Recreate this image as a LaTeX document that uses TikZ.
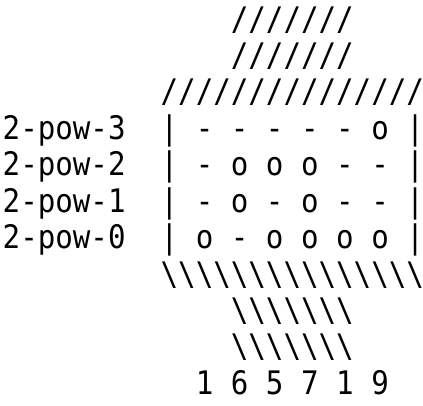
\documentclass[tikz,border=0pt]{standalone}
\usepackage{fontspec}
\newfontfamily\asciifont[FakeStretch=0.9]{DejaVu Sans Mono}
\begin{document}
\begin{tikzpicture}[x=17.55pt,y=-36.43pt,
  ch/.style={inner sep=0pt,anchor=base,font=\asciifont\fontsize{32.4}{36}\selectfont}]
\useasboundingbox[fill=white] (-11.5pt,30pt) rectangle (411.5pt,-375pt);
% top slashes
\foreach \c in {13,...,19} {
  \node[ch] (sa\c) at (\c,0) {/};
  \node[ch] (sb\c) at (\c,1) {/};
}
\foreach \c in {9,...,23} {
  \node[ch] (sc\c) at (\c,2) {/};
  \node[ch] (bc\c) at (\c,7) {\textbackslash};
}
\foreach \c in {13,...,19} {
  \node[ch] (ba\c) at (\c,8) {\textbackslash};
  \node[ch] (bb\c) at (\c,9) {\textbackslash};
}
% row labels and frame
\foreach \r/\p in {3/3,4/2,5/1,6/0} {
  \foreach \ch [count=\i from 0] in {2,-,p,o,w,-} {
    \node[ch] (l\r-\i) at (\i,\r) {\ch};
  }
  \node[ch] (l\r-6) at (6,\r) {\p};
  \node[ch] (fl\r) at (9,\r) {|};
  \node[ch] (fr\r) at (23,\r) {|};
}
% cells
\foreach \r/\vals in {3/{-,-,-,-,-,o},4/{-,o,o,o,-,-},5/{-,o,-,o,-,-},6/{o,-,o,o,o,o}} {
  \foreach \v [count=\k from 0] in \vals {
    \pgfmathtruncatemacro\cc{11+2*\k}
    \node[ch] (m\r-\k) at (\cc,\r) {\v};
  }
}
% bottom numbers
\foreach \d [count=\k from 0] in {1,6,5,7,1,9} {
  \pgfmathtruncatemacro\cc{11+2*\k}
  \node[ch] (n\k) at (\cc,10) {\d};
}
\end{tikzpicture}
\end{document}
